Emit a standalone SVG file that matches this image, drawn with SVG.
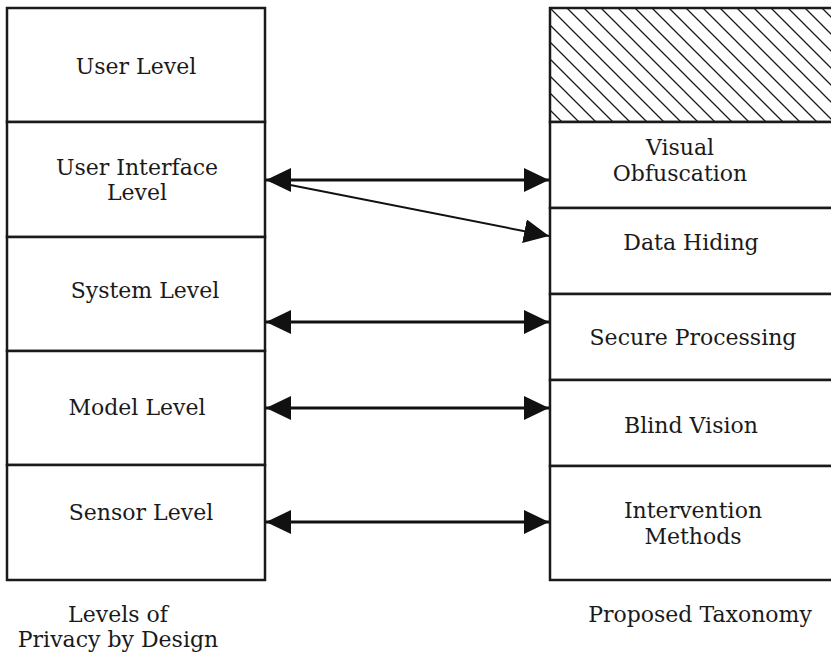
<svg xmlns="http://www.w3.org/2000/svg" width="831" height="654" viewBox="0 0 831 654">
  <style>
    .box { fill: #ffffff; stroke: #1a1a1a; stroke-width: 2.5; }
    .lbl { font-family: "DejaVu Serif", "Liberation Serif", serif; font-size: 22px; fill: #1a1a1a; text-anchor: middle; }
    .conn { stroke: #111111; fill: none; }
  </style>
  <defs>
    <pattern id="hatch" patternUnits="userSpaceOnUse" width="17" height="17" x="550" y="8">
      <path d="M-1,-1 L18,18 M-18,-1 L1,18 M16,-1 L35,18" stroke="#1a1a1a" stroke-width="1.3"/>
    </pattern>
    <marker id="ah" markerUnits="userSpaceOnUse" markerWidth="26" markerHeight="26" refX="25" refY="12" orient="auto-start-reverse" viewBox="0 0 26 26">
      <path d="M0,0 L25,12 L0,24 Z" fill="#111111"/>
    </marker>
  </defs>
  <rect width="831" height="654" fill="#ffffff"/>

  <!-- Left column: Levels of Privacy by Design -->
  <g id="user-level">
    <rect class="box" x="7" y="8" width="258" height="114"/>
    <text class="lbl" x="136" y="74">User Level</text>
  </g>
  <g id="ui-level">
    <rect class="box" x="7" y="122" width="258" height="115"/>
    <text class="lbl" x="137" y="175">User Interface</text>
    <text class="lbl" x="137" y="200">Level</text>
  </g>
  <g id="system-level">
    <rect class="box" x="7" y="237" width="258" height="114"/>
    <text class="lbl" x="145" y="298">System Level</text>
  </g>
  <g id="model-level">
    <rect class="box" x="7" y="351" width="258" height="114"/>
    <text class="lbl" x="137" y="415">Model Level</text>
  </g>
  <g id="sensor-level">
    <rect class="box" x="7" y="465" width="258" height="115"/>
    <text class="lbl" x="141" y="520">Sensor Level</text>
  </g>

  <!-- Right column: Proposed Taxonomy -->
  <g id="hatched">
    <rect x="550" y="8" width="290" height="114" fill="url(#hatch)" stroke="#1a1a1a" stroke-width="2.5"/>
  </g>
  <g id="visual-obfuscation">
    <rect class="box" x="550" y="122" width="290" height="86"/>
    <text class="lbl" x="680" y="155">Visual</text>
    <text class="lbl" x="680" y="181">Obfuscation</text>
  </g>
  <g id="data-hiding">
    <rect class="box" x="550" y="208" width="290" height="86"/>
    <text class="lbl" x="691" y="250">Data Hiding</text>
  </g>
  <g id="secure-processing">
    <rect class="box" x="550" y="294" width="290" height="86"/>
    <text class="lbl" x="693" y="345">Secure Processing</text>
  </g>
  <g id="blind-vision">
    <rect class="box" x="550" y="380" width="290" height="86"/>
    <text class="lbl" x="691" y="433">Blind Vision</text>
  </g>
  <g id="intervention-methods">
    <rect class="box" x="550" y="466" width="290" height="114"/>
    <text class="lbl" x="693" y="518">Intervention</text>
    <text class="lbl" x="693" y="544">Methods</text>
  </g>

  <!-- Column captions -->
  <g id="caption-left">
    <text class="lbl" x="118" y="622">Levels of</text>
    <text class="lbl" x="118" y="647">Privacy by Design</text>
  </g>
  <g id="caption-right">
    <text class="lbl" x="700" y="622">Proposed Taxonomy</text>
  </g>

  <!-- Connectors -->
  <g id="connectors">
    <line class="conn" x1="266" y1="180" x2="549" y2="180" stroke-width="3" marker-start="url(#ah)" marker-end="url(#ah)"/>
    <line class="conn" x1="270" y1="181" x2="549" y2="236" stroke-width="2" marker-end="url(#ah)"/>
    <line class="conn" x1="266" y1="322" x2="549" y2="322" stroke-width="3" marker-start="url(#ah)" marker-end="url(#ah)"/>
    <line class="conn" x1="266" y1="408" x2="549" y2="408" stroke-width="3" marker-start="url(#ah)" marker-end="url(#ah)"/>
    <line class="conn" x1="266" y1="522" x2="549" y2="522" stroke-width="3" marker-start="url(#ah)" marker-end="url(#ah)"/>
  </g>
</svg>
